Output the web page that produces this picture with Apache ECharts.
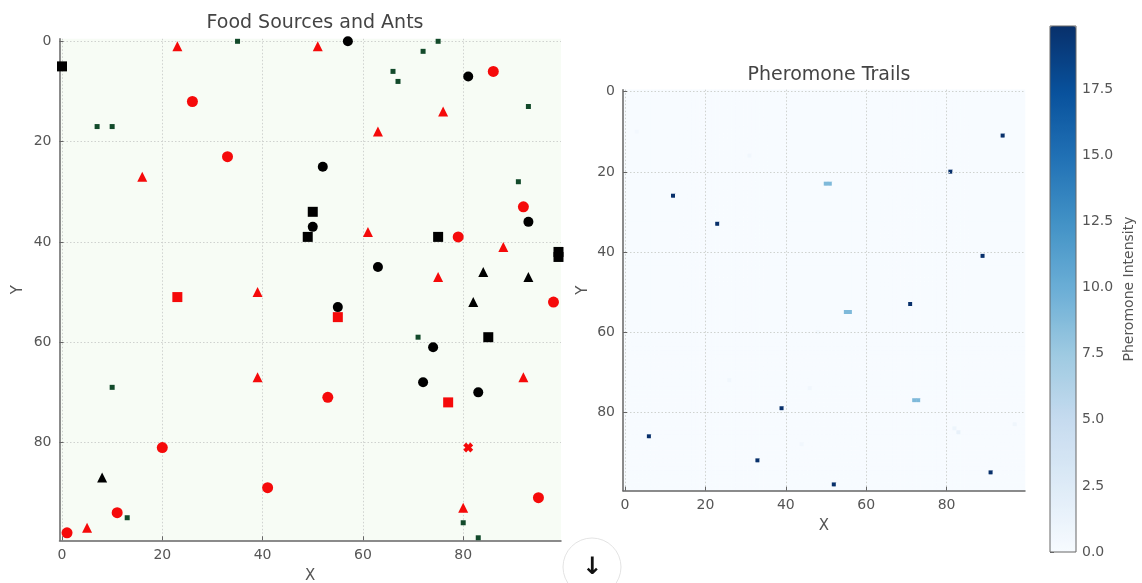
<!DOCTYPE html>
<html><head><meta charset="utf-8">
<script src="https://cdn.jsdelivr.net/npm/echarts@6/dist/echarts.min.js"></script>
<style>html,body{margin:0;padding:0;background:#fff}#c{width:1142px;height:583px}</style>
</head><body><div id="c"></div>
<script>
// ---------- data ----------
const tickValues = [0, 20, 40, 60, 80];
const colorbarTicks = [0, 2.5, 5, 7.5, 10, 12.5, 15, 17.5];
const redCircles = [[86,6],[26,12],[33,23],[92,33],[79,39],[98,52],[53,71],[20,81],[41,89],[11,94],[1,98],[95,91]];
const redTriangles = [[23,1],[51,1],[76,14],[63,18],[16,27],[61,38],[88,41],[39,50],[75,47],[39,67],[92,67],[5,97],[80,93]];
const redSquares = [[23,51],[55,55],[77,72]];
const redCrosses = [[81,81]];
const blackCircles = [[57,0],[81,7],[52,25],[93,36],[50,37],[63,45],[55,53],[74,61],[72,68],[83,70]];
const blackSquares = [[0,5],[50,34],[49,39],[75,39],[85,59],[99,42],[99,43]];
const blackTriangles = [[8,87],[84,46],[93,47],[82,52]];
const ants = [[35,0],[7,17],[10,17],[75,0],[72,2],[66,6],[67,8],[93,13],[91,28],[71,59],[10,69],[13,95],[80,96],[83,99]];
// pheromone cells: [x, y, value]
const pheromoneCells = [
  [12,26,19.9],[23,33,19.9],[81,20,19.9],[94,11,19.9],[89,41,19.9],[71,53,19.9],
  [6,86,19.9],[39,79,19.9],[33,92,19.9],[52,98,19.9],[91,95,19.9],
  [50,23,9],[51,23,9],[55,55,9],[56,55,9],[72,77,9],[73,77,9],
  [31,16,0.6],[3,10,0.4],[83,85,1.5],[82,84,1.0],[97,83,0.8],[26,72,0.6],[46,74,0.6],[44,88,0.6],[48,60,0.5]
];
const gridSize = 100;

// ---------- build ----------
const cats = [];
for (let i = 0; i < gridSize; i++) cats.push(String(i));
const field = [];
for (let y = 0; y < gridSize; y++) { field.push(new Array(gridSize).fill(0)); }
pheromoneCells.forEach(c => { field[c[1]][c[0]] = c[2]; });
const heatData = [];
for (let y = 0; y < gridSize; y++) for (let x = 0; x < gridSize; x++) heatData.push([x, y, field[y][x]]);

const FONT = 'DejaVu Sans';
const labelStyle = { color: '#555', fontSize: 14, fontFamily: FONT };
const nameStyle = { color: '#555', fontSize: 15, fontFamily: FONT };
const splitStyle = { show: true, lineStyle: { color: '#cfd2cf', type: [1.5, 2], width: 1 } };
function valAxis(dim, gridIndex, extra) {
  return Object.assign({
    type: 'value', gridIndex: gridIndex, min: -0.5, max: 99.5,
    axisLine: { show: true, onZero: false, lineStyle: { color: '#666', width: 1.5 } },
    axisTick: { show: true, inside: true, length: 4, customValues: tickValues, lineStyle: { color: '#666' } },
    axisLabel: Object.assign({ customValues: tickValues, margin: 8 }, labelStyle),
    splitLine: splitStyle,
    nameLocation: 'middle', nameTextStyle: nameStyle
  }, extra);
}
const crossPath = 'path://M3,0H7V3H10V7H7V10H3V7H0V3H3Z';
const RED = '#f50a0a', BLACK = '#000', GREEN = '#124a2a';

const chart = echarts.init(document.getElementById('c'));
chart.setOption({
  animation: false,
  textStyle: { fontFamily: FONT },
  title: [
    { text: 'Food Sources and Ants', left: 310, top: 9, textAlign: 'center', textStyle: { fontSize: 19, fontWeight: 'normal', color: '#444', fontFamily: FONT } },
    { text: 'Pheromone Trails', left: 824, top: 61, textAlign: 'center', textStyle: { fontSize: 19, fontWeight: 'normal', color: '#444', fontFamily: FONT } }
  ],
  grid: [
    { left: 59.5, top: 38.8, width: 501.5, height: 501.5, show: true, backgroundColor: '#f7fcf5', borderWidth: 0, outerBoundsMode: 'none', containLabel: false },
    { left: 623, top: 89.7, width: 402, height: 401, outerBoundsMode: 'none', containLabel: false },
    { left: 623, top: 89.7, width: 402, height: 401, z: 5, outerBoundsMode: 'none', containLabel: false },
    { left: 1050, top: 26, width: 26, height: 526, show: true, borderColor: '#666', borderWidth: 1, backgroundColor: 'transparent', z: 10, outerBoundsMode: 'none', containLabel: false }
  ],
  xAxis: [
    valAxis('x', 0, { name: 'X', nameGap: 28 }),
    { type: 'category', gridIndex: 1, data: cats, show: false },
    valAxis('x', 2, { name: 'X', nameGap: 28, z: 5 }),
    { type: 'value', gridIndex: 3, show: false, min: 0, max: 1 }
  ],
  yAxis: [
    valAxis('y', 0, { inverse: true, name: 'Y', nameGap: 34 }),
    { type: 'category', gridIndex: 1, data: cats, show: false, inverse: true },
    valAxis('y', 2, { inverse: true, name: 'Y', nameGap: 32, z: 5 }),
    { type: 'value', gridIndex: 3, position: 'right', min: 0, max: 19.9,
      axisLine: { show: false }, splitLine: { show: false },
      axisTick: { show: true, length: 4, customValues: colorbarTicks, lineStyle: { color: '#666' } },
      axisLabel: Object.assign({ customValues: colorbarTicks, formatter: v => Number(v).toFixed(1), margin: 6 }, labelStyle),
      name: 'Pheromone Intensity', nameLocation: 'middle', nameRotate: 90, nameGap: 46,
      nameTextStyle: { color: '#555', fontSize: 14, fontFamily: FONT } }
  ],
  visualMap: {
    type: 'continuous', min: 0, max: 19.9, seriesIndex: 0, calculable: false, hoverLink: false,
    left: 1050, top: 26, itemWidth: 26, itemHeight: 526, padding: 0, text: null, showLabel: false,
    indicatorSize: 0,
    inRange: { color: ['#f7fbff','#deebf7','#c6dbef','#9ecae1','#6baed6','#4292c6','#2171b5','#08519c','#08306b'] }
  },
  graphic: [
    { type: 'circle', shape: { cx: 592, cy: 567, r: 29 }, style: { fill: '#fff', stroke: '#e3e3e3', lineWidth: 1 }, z: 100 },
    { type: 'text', x: 592, y: 568, style: { text: '↓', fontSize: 24, fontWeight: 'bold', fill: '#111', align: 'center', verticalAlign: 'middle', fontFamily: FONT }, z: 101 }
  ],
  series: [
    { type: 'heatmap', xAxisIndex: 1, yAxisIndex: 1, data: heatData, progressive: 0, emphasis: { disabled: true } },
    { type: 'scatter', xAxisIndex: 0, yAxisIndex: 0, data: ants, symbol: 'rect', symbolSize: 5, itemStyle: { color: GREEN, opacity: 1 } },
    { type: 'scatter', xAxisIndex: 0, yAxisIndex: 0, data: redCircles, symbol: 'circle', symbolSize: 11, itemStyle: { color: RED, opacity: 1 } },
    { type: 'scatter', xAxisIndex: 0, yAxisIndex: 0, data: redTriangles, symbol: 'triangle', symbolSize: 10, itemStyle: { color: RED, opacity: 1 } },
    { type: 'scatter', xAxisIndex: 0, yAxisIndex: 0, data: redSquares, symbol: 'rect', symbolSize: 10, itemStyle: { color: RED, opacity: 1 } },
    { type: 'scatter', xAxisIndex: 0, yAxisIndex: 0, data: redCrosses, symbol: crossPath, symbolRotate: 45, symbolSize: 10, itemStyle: { color: RED, opacity: 1 } },
    { type: 'scatter', xAxisIndex: 0, yAxisIndex: 0, data: blackCircles, symbol: 'circle', symbolSize: 10, itemStyle: { color: BLACK, opacity: 1 } },
    { type: 'scatter', xAxisIndex: 0, yAxisIndex: 0, data: blackSquares, symbol: 'rect', symbolSize: 10, itemStyle: { color: BLACK, opacity: 1 } },
    { type: 'scatter', xAxisIndex: 0, yAxisIndex: 0, data: blackTriangles, symbol: 'triangle', symbolSize: 10, itemStyle: { color: BLACK, opacity: 1 } }
  ]
});
</script>
</body></html>
